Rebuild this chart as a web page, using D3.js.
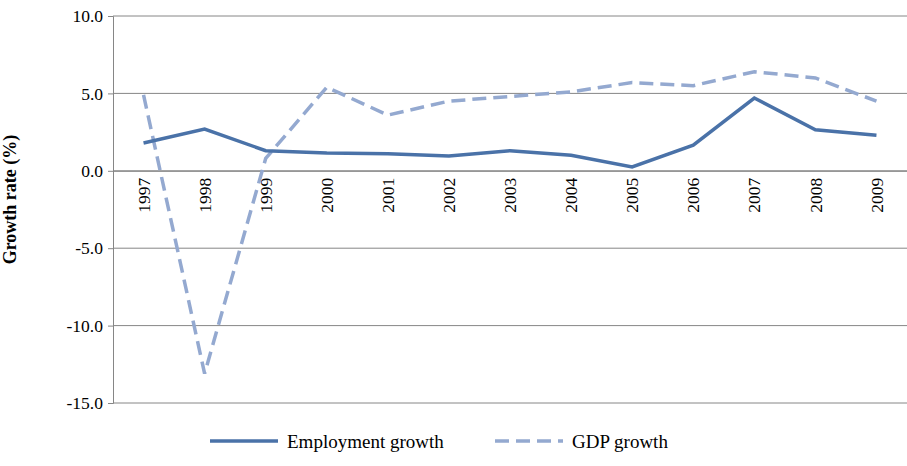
<!DOCTYPE html>
<html><head><meta charset="utf-8">
<script src="https://cdn.jsdelivr.net/npm/d3@7"></script>
<style>
body{margin:0;background:#fff;font-family:"Liberation Serif",serif;}
</style></head><body><div class="chart"></div>
<script>
/* chart data */
const years = ["1997","1998","1999","2000","2001","2002","2003","2004","2005","2006","2007","2008","2009"];
const employment = [1.8, 2.7, 1.3, 1.15, 1.1, 0.95, 1.3, 1.0, 0.25, 1.65, 4.7, 2.65, 2.3];
const gdp = [4.9, -13.1, 0.8, 5.4, 3.6, 4.5, 4.8, 5.1, 5.7, 5.5, 6.4, 6.0, 4.5];
const yTicks = [10, 5, 0, -5, -10, -15];

const margin = {top: 16, right: 0, bottom: 63, left: 113};
const width = 907 - margin.left - margin.right;
const height = 466 - margin.top - margin.bottom;

const svg = d3.select('.chart').append('svg')
  .attr("width", 907).attr("height", 466)
  .append("g")
  .attr("transform", `translate(${margin.left},${margin.top})`);

const xScale = d3.scaleBand().domain(years).range([0, width]);
const yScale = d3.scaleLinear().domain([-15, 10]).range([height, 0]);
const xc = d => xScale(d) + xScale.bandwidth() / 2;

/* gridlines */
svg.selectAll(".grid").data(yTicks).enter().append("line")
  .attr("x1", 0).attr("x2", width)
  .attr("y1", d => yScale(d)).attr("y2", d => yScale(d))
  .style("stroke", "#868686").style("stroke-width", 1);

/* y axis */
const yAxis = svg.append("g").call(d3.axisLeft(yScale).tickValues(yTicks).tickFormat(d => d.toFixed(1)).tickSize(5));
yAxis.select(".domain").style("stroke", "#868686");
yAxis.selectAll(".tick line").style("stroke", "#868686");
yAxis.selectAll("text").style("font-family", "Liberation Serif, serif").style("font-size", "17.5px").style("fill", "#000").attr("dx", -2);

/* x axis along zero */
const xAxis = svg.append("g").attr("transform", `translate(0,${yScale(0)})`)
  .call(d3.axisBottom(xScale).tickSize(0));
xAxis.select(".domain").style("stroke", "#868686");
xAxis.selectAll("text")
  .style("font-family", "Liberation Serif, serif").style("font-size", "17.5px").style("fill", "#000")
  .attr("transform", "rotate(-90)").attr("text-anchor", "end")
  .attr("x", -7).attr("y", 0).attr("dy", "0.35em");

/* lines */
const line = d3.line().x((d, i) => xc(years[i])).y(d => yScale(d));
svg.append("path").datum(gdp).attr("d", line)
  .style("fill", "none").style("stroke", "#94a9d0").style("stroke-width", 3.5).style("stroke-dasharray", "14,7");
svg.append("path").datum(employment).attr("d", line)
  .style("fill", "none").style("stroke", "#4a72a8").style("stroke-width", 3.5);

/* y label */
svg.append("text").attr("transform", `translate(-97,${height / 2 - 10}) rotate(-90)`)
  .attr("text-anchor", "middle").style("font-weight", "bold").style("font-size", "18px")
  .text("Growth rate (%)");

/* legend */
const legend = svg.append("g").attr("transform", `translate(0,${height + 38})`);
const items = [{n: "Employment growth", c: "#4a72a8", dash: null, x: 97},
               {n: "GDP growth", c: "#94a9d0", dash: "14,7", x: 382}];
legend.selectAll("line").data(items).enter().append("line")
  .attr("x1", d => d.x).attr("x2", d => d.x + 68).attr("y1", 0).attr("y2", 0)
  .style("stroke", d => d.c).style("stroke-width", 3.5).style("stroke-dasharray", d => d.dash);
legend.selectAll("text").data(items).enter().append("text")
  .attr("x", d => d.x + 77).attr("y", 0).attr("dy", "0.35em")
  .style("font-size", "19px").text(d => d.n);
</script></body></html>
